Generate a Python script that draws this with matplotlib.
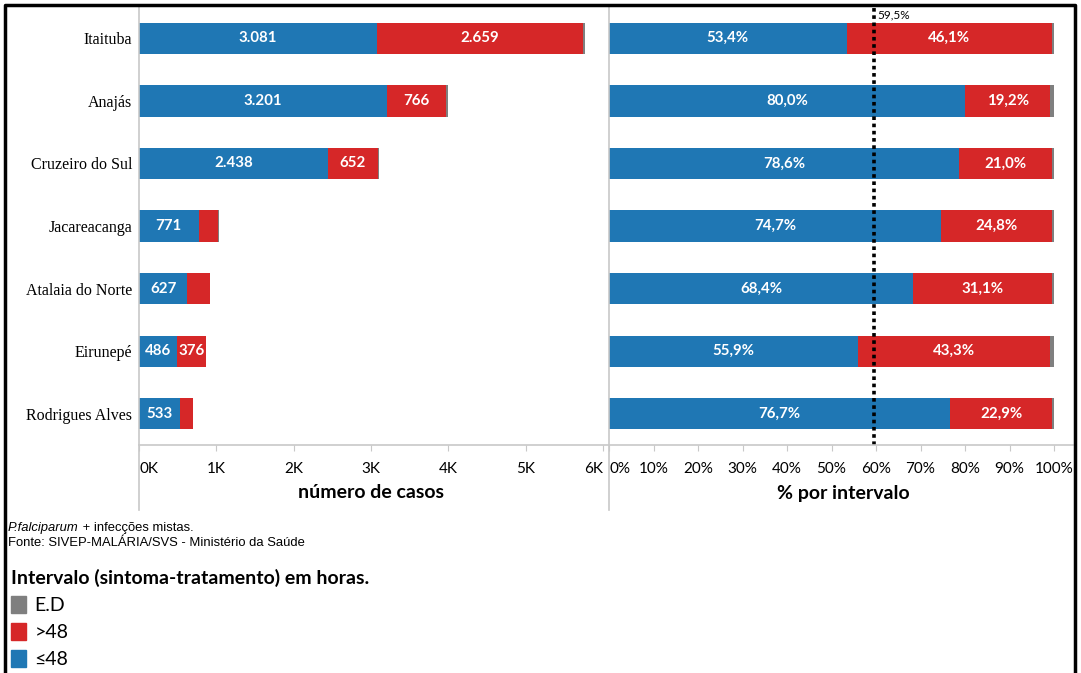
#!/usr/bin/env python3
"""Intervalo sintoma-tratamento por municipio: casos e percentual."""

import matplotlib

matplotlib.use("Agg")
import matplotlib.pyplot as plt
from matplotlib.lines import Line2D
from matplotlib.patches import Patch

W, H = 1081, 673

municipios = ["Itaituba", "Anajás", "Cruzeiro do Sul", "Jacareacanga",
              "Atalaia do Norte", "Eirunepé", "Rodrigues Alves"]
casos_ate48 = [3081, 3201, 2438, 771, 627, 486, 533]
casos_mais48 = [2659, 766, 652, 256, 285, 376, 159]
casos_ed = [30, 33, 12, 5, 5, 7, 3]
pct_ate48 = [53.4, 80.0, 78.6, 74.7, 68.4, 55.9, 76.7]
pct_mais48 = [46.1, 19.2, 21.0, 24.8, 31.1, 43.3, 22.9]
pct_ed = [0.5, 0.8, 0.4, 0.5, 0.5, 0.8, 0.4]
referencia_pct = 59.5

casos_ticks = [0, 1000, 2000, 3000, 4000, 5000, 6000]
pct_ticks = [0, 10, 20, 30, 40, 50, 60, 70, 80, 90, 100]

BLUE, RED, GRAY = "#1f77b4", "#d62728", "#7f7f7f"
SANS = ["Lato", "DejaVu Sans"]


def fx(px):
    return px / W


def fy(py):
    return 1 - py / H


def milhar(v):
    return f"{v:,}".replace(",", ".")


def pct(v):
    return f"{v:.1f}%".replace(".", ",")


fig = plt.figure(figsize=(W / 100, H / 100), dpi=100)
ax_l = fig.add_axes([fx(139), fy(445), fx(603) - fx(139), fy(7) - fy(445)])
ax_r = fig.add_axes([fx(609), fy(445), fx(1054) - fx(609), fy(7) - fy(445)])

ypos = list(range(len(municipios)))
bh = 0.5

# painel esquerdo: numero de casos
left_gray = [a + b for a, b in zip(casos_ate48, casos_mais48)]
ax_l.barh(ypos, casos_ate48, height=bh, color=BLUE)
ax_l.barh(ypos, casos_mais48, left=casos_ate48, height=bh, color=RED)
ax_l.barh(ypos, casos_ed, left=left_gray, height=bh, color=GRAY)
for y, a, b in zip(ypos, casos_ate48, casos_mais48):
    ax_l.text(a / 2, y, milhar(a), ha="center", va="center", color="white",
              fontsize=10.8, fontweight="bold", family=SANS)
    if b >= 300:
        ax_l.text(a + b / 2, y, milhar(b), ha="center", va="center",
                  color="white", fontsize=10.8, fontweight="bold", family=SANS)

ax_l.set_xlim(0, 6000)
ax_l.set_ylim(len(municipios) - 0.5, -0.5)
ax_l.set_yticks(ypos, municipios, family="Liberation Serif", fontsize=11.5)
ax_l.tick_params(axis="y", length=0, pad=5)
ax_l.set_xticks(casos_ticks, [f"{t // 1000}K" for t in casos_ticks])
tl = ax_l.get_xticklabels()
tl[0].set_ha("left")
tl[-1].set_ha("right")

# painel direito: percentual por intervalo
pr_gray = [a + b for a, b in zip(pct_ate48, pct_mais48)]
ax_r.barh(ypos, pct_ate48, height=bh, color=BLUE)
ax_r.barh(ypos, pct_mais48, left=pct_ate48, height=bh, color=RED)
ax_r.barh(ypos, pct_ed, left=pr_gray, height=bh, color=GRAY)
for y, a, b in zip(ypos, pct_ate48, pct_mais48):
    ax_r.text(a / 2, y, pct(a), ha="center", va="center", color="white",
              fontsize=10.8, fontweight="bold", family=SANS)
    ax_r.text(a + b / 2, y, pct(b), ha="center", va="center", color="white",
              fontsize=10.8, fontweight="bold", family=SANS)
ax_r.axvline(referencia_pct, color="black", linestyle=(0, (1, 1)),
             linewidth=2.6, zorder=5)
ax_r.text(referencia_pct + 0.7, -0.37, pct(referencia_pct), fontsize=8.5,
          family=SANS, va="center", ha="left", zorder=6,
          bbox={"facecolor": "white", "edgecolor": "none", "pad": 0.5})

ax_r.set_xlim(0, 100)
ax_r.set_ylim(len(municipios) - 0.5, -0.5)
ax_r.set_yticks([])
ax_r.set_xticks(pct_ticks, [f"{t}%" for t in pct_ticks])
ax_r.get_xticklabels()[0].set_ha("left")

for ax in (ax_l, ax_r):
    for side in ("top", "right", "left", "bottom"):
        ax.spines[side].set_visible(False)
    ax.tick_params(axis="x", direction="out", length=4, color="#c8c8c8",
                   pad=8, labelsize=11)
    for lab in ax.get_xticklabels():
        lab.set_family(SANS)

fig.text(fx(371), fy(493), "número de casos", ha="center", va="center",
         fontsize=14, fontweight="bold", family=SANS)
fig.text(fx(843), fy(493), "% por intervalo", ha="center", va="center",
         fontsize=14, fontweight="bold", family=SANS)

# linhas do painel
line_kw = {"color": "#c8c8c8", "linewidth": 1.2, "transform": fig.transFigure}
fig.add_artist(Line2D([fx(139), fx(1073)], [fy(445), fy(445)], **line_kw))
fig.add_artist(Line2D([fx(139), fx(139)], [fy(7), fy(510)], **line_kw))
fig.add_artist(Line2D([fx(609), fx(609)], [fy(7), fy(510)], **line_kw))

# moldura
frame_kw = {"color": "black", "linewidth": 2.5, "transform": fig.transFigure}
fig.add_artist(Line2D([fx(5), fx(5), fx(1075), fx(1075)],
                      [fy(673), fy(5), fy(5), fy(673)], **frame_kw))

# notas
t1 = fig.text(fx(8), fy(528), "P.falciparum", fontsize=9.4, style="italic",
              family="Liberation Sans", va="center", ha="left")
ax_l.annotate(" + infecções mistas.", xy=(1, 0), xycoords=t1,
              va="bottom", ha="left", fontsize=9.4, family="Liberation Sans",
              annotation_clip=False)
fig.text(fx(8), fy(543), "Fonte: SIVEP-MALÁRIA/SVS - Ministério da Saúde",
         fontsize=9.4, family="Liberation Sans", va="center", ha="left")

# legenda
handles = [Patch(color=GRAY, label="E.D"), Patch(color=RED, label=">48"),
           Patch(color=BLUE, label="≤48")]
fig.legend(handles=handles, loc="upper left",
           bbox_to_anchor=(fx(11), fy(569)), frameon=False,
           borderaxespad=0, borderpad=0,
           title="Intervalo (sintoma-tratamento) em horas.",
           alignment="left", handlelength=0.75, handleheight=1.0,
           handletextpad=0.45, labelspacing=0.45,
           prop={"family": SANS, "size": 14},
           title_fontproperties={"family": SANS, "size": 14,
                                 "weight": "bold"})

fig.savefig("out.png", dpi=100)
